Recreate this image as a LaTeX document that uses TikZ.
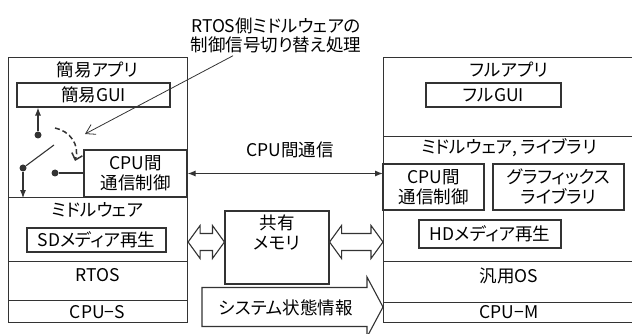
\documentclass[tikz,border=0pt]{standalone}
\usepackage{fontspec}
\setmainfont{Noto Sans CJK JP}[RawFeature=+palt]
\usetikzlibrary{calc,arrows.meta}
\definecolor{lGray}{HTML}{333333}

\begin{document}
\begin{tikzpicture}[x=1pt,y=1pt,yscale=-1,>={Latex[length=8pt,width=6pt]}]
		\tikzstyle{LAYER} = [draw=lGray, line width=1.1pt, inner sep=0pt, anchor=north west]
		\tikzstyle{BOX} = [draw=lGray, line width=1.1pt, inner sep=0pt, align=center]
		\tikzstyle{txt} = [font=\fontsize{17.5}{20}\selectfont, inner sep=0pt, align=center]
		\tikzstyle{conn} = [draw=lGray, line width=1.1pt]
		\tikzstyle{hollow} = [draw=lGray, line width=1.1pt, fill=white, line join=miter]
		\tikzstyle{dot} = [circle, fill=lGray, inner sep=0pt, minimum size=7]
		\useasboundingbox (0,0) rectangle (632,334);

		% CPU-S side
		\node[LAYER, minimum width=179, minimum height=140] (appS) at (8,57) {};
		\node[LAYER, minimum width=179, minimum height=64] (midS) at (8,197) {};
		\node[LAYER, minimum width=179, minimum height=39] (osS) at (8,261) {};
		\node[LAYER, minimum width=179, minimum height=22] (cpuS) at (8,300) {};
		\node[txt] (appSName) at (97.5,70) {簡易アプリ};
		\node[txt] (midSName) at (97.5,210) {ミドルウェア};
		\node[txt] (osSName) at (97.5,275) {RTOS};
		\node[txt] (cpuSName) at (97.5,312) {CPU−S};
		\node[BOX, txt, minimum width=153, minimum height=24] (guiS) at (93.5,95) {簡易GUI};
		\node[BOX, txt, minimum width=103, minimum height=47] (commS) at (135.5,173.5) {CPU間\\通信制御};
		\node[BOX, txt, minimum width=139, minimum height=24] (sdS) at (96.5,240) {SDメディア再生};

		% CPU-M side
		\node[LAYER, minimum width=252, minimum height=79] (appM) at (383,57) {};
		\node[LAYER, minimum width=252, minimum height=125] (midM) at (383,136) {};
		\node[LAYER, minimum width=252, minimum height=41] (osM) at (383,261) {};
		\node[LAYER, minimum width=252, minimum height=20] (cpuM) at (383,302) {};
		\node[txt] (appMName) at (509,70) {フルアプリ};
		\node[txt] (midMName) at (509,148) {ミドルウェア, ライブラリ};
		\node[txt] (osMName) at (509,276) {汎用OS};
		\node[txt] (cpuMName) at (509,312) {CPU−M};
		\node[BOX, txt, minimum width=135, minimum height=24] (guiM) at (493.5,95) {フルGUI};
		\node[BOX, txt, minimum width=101, minimum height=46] (commM) at (433.5,187) {CPU間\\通信制御};
		\node[BOX, txt, minimum width=131, minimum height=46] (gfxM) at (558.5,187) {グラフィックス\\ライブラリ};
		\node[BOX, txt, minimum width=142, minimum height=28] (hdM) at (490,234) {HDメディア再生};

		% shared memory
		\node[BOX, minimum width=104, minimum height=73] (mem) at (277,247.5) {};
		\node[txt] (memText) at (277,232.5) {共有\\メモリ};

		% inter-CPU link
		\draw[conn,<->] (commS.east) -- (commS.east -| midM.west);
		\node[txt] (commLabel) at (290,150) {CPU間通信};

		% switch
		\node[dot] (swUp) at (38,135) {};
		\node[dot] (swPivot) at (23,168) {};
		\node[dot] (swIn) at (55,173) {};
		\coordinate (swLever) at (54,145);
		\coordinate (bendFrom) at (55,128);
		\coordinate (bendTo) at (75,161);
		\draw[conn,->] (swUp) -- (swUp |- guiS.south);
		\draw[conn,->] (swPivot) -- (swPivot |- appS.south);
		\draw[conn] (swPivot) -- (swLever);
		\draw[conn] (swIn) -- (swIn -| commS.west);
		\draw[conn, line width=1.5pt, dash pattern=on 5pt off 3pt, -{Straight Barb[length=6pt,width=11pt]}] (bendFrom) .. controls (70,131) and (80,145) .. (bendTo);

		% note
		\node[txt, font=\fontsize{17.5}{19}\selectfont] (note) at (276,35) {RTOS側ミドルウェアの\\制御信号切り替え処理};
		\coordinate (noteTip) at (85,134);
		\draw[conn, line width=0.8pt, -{Straight Barb[length=9pt,width=11pt]}] ($(note.south)+(-43,3)$) -- (noteTip);

		% memory access arrows
		\coordinate (linkY) at (0,242);
		\foreach \from/\to in {midS/mem, mem/midM}{
			\coordinate (lA) at (\from.east |- linkY);
			\coordinate (lB) at (\to.west |- linkY);
			\draw[hollow] (lA) -- ++(12,-16.5) -- ++(0,8) -- ($(lB)+(-12,-8.5)$) -- ++(0,-8) -- (lB) -- ++(-12,16.5) -- ++(0,-8) -- ($(lA)+(12,8.5)$) -- ++(0,8) -- cycle;
		}

		% system state
		\coordinate (sysTail) at (202,307);
		\coordinate (sysTip) at (cpuM.west |- sysTail);
		\draw[hollow] ($(sysTail)+(0,-19.5)$) -- ($(sysTip)+(-16,-19.5)$) -- ++(0,-10.5) -- (sysTip) -- ++(-16,30) -- ++(0,-10.5) -- ($(sysTail)+(0,19.5)$) -- cycle;
		\node[txt] (sysText) at (286,308) {システム状態情報};
\end{tikzpicture}
\end{document}
